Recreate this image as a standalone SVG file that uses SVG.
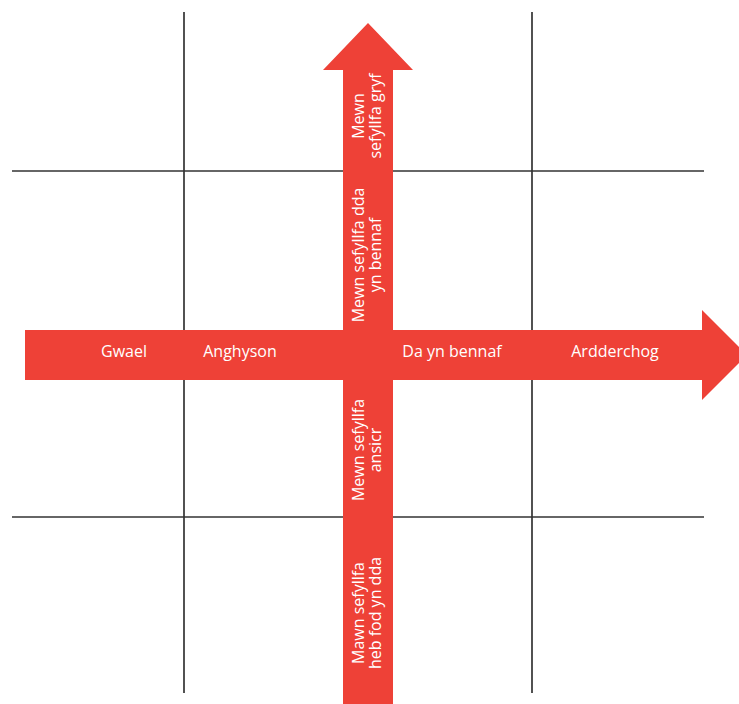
<svg xmlns="http://www.w3.org/2000/svg" width="739" height="704" viewBox="0 0 739 704">
<style>
.grid{stroke:#333333;stroke-width:1.7;fill:none}
.arrow{fill:#EE4137}
.lbl{font-family:"Open Sans","Liberation Sans",sans-serif;font-size:16px;fill:#ffffff;text-anchor:middle}
</style>
<rect width="739" height="704" fill="#ffffff"/>
<g id="grid">
<line class="grid" x1="184" y1="12" x2="184" y2="693"/>
<line class="grid" x1="532" y1="12" x2="532" y2="693"/>
<line class="grid" x1="12" y1="171" x2="704" y2="171"/>
<line class="grid" x1="12" y1="517" x2="704" y2="517"/>
</g>
<g id="connectors">
<polygon id="h-arrow" class="arrow" points="25,330 702,330 702,310 747,355 702,400 702,380 25,380"/>
<polygon id="v-arrow" class="arrow" points="343,704 343,70 323,70 368,23 413,70 393,70 393,704"/>
</g>
<g id="n-gwael"><text class="lbl" x="124" y="357">Gwael</text></g>
<g id="n-anghyson"><text class="lbl" x="240" y="357">Anghyson</text></g>
<g id="n-da"><text class="lbl" x="452" y="357">Da yn bennaf</text></g>
<g id="n-ardderchog"><text class="lbl" x="615" y="357">Ardderchog</text></g>
<g id="n-gryf"><text class="lbl" transform="translate(364,116) rotate(-90)"><tspan x="0" y="0">Mewn</tspan><tspan x="0" y="17">sefyllfa gryf</tspan></text></g>
<g id="n-dda"><text class="lbl" transform="translate(364,255) rotate(-90)"><tspan x="0" y="0">Mewn sefyllfa dda</tspan><tspan x="0" y="17">yn bennaf</tspan></text></g>
<g id="n-ansicr"><text class="lbl" transform="translate(364,450) rotate(-90)"><tspan x="0" y="0">Mewn sefyllfa</tspan><tspan x="0" y="17">ansicr</tspan></text></g>
<g id="n-heb"><text class="lbl" transform="translate(364,613) rotate(-90)"><tspan x="0" y="0">Mawn sefyllfa</tspan><tspan x="0" y="17">heb fod yn dda</tspan></text></g>
</svg>
